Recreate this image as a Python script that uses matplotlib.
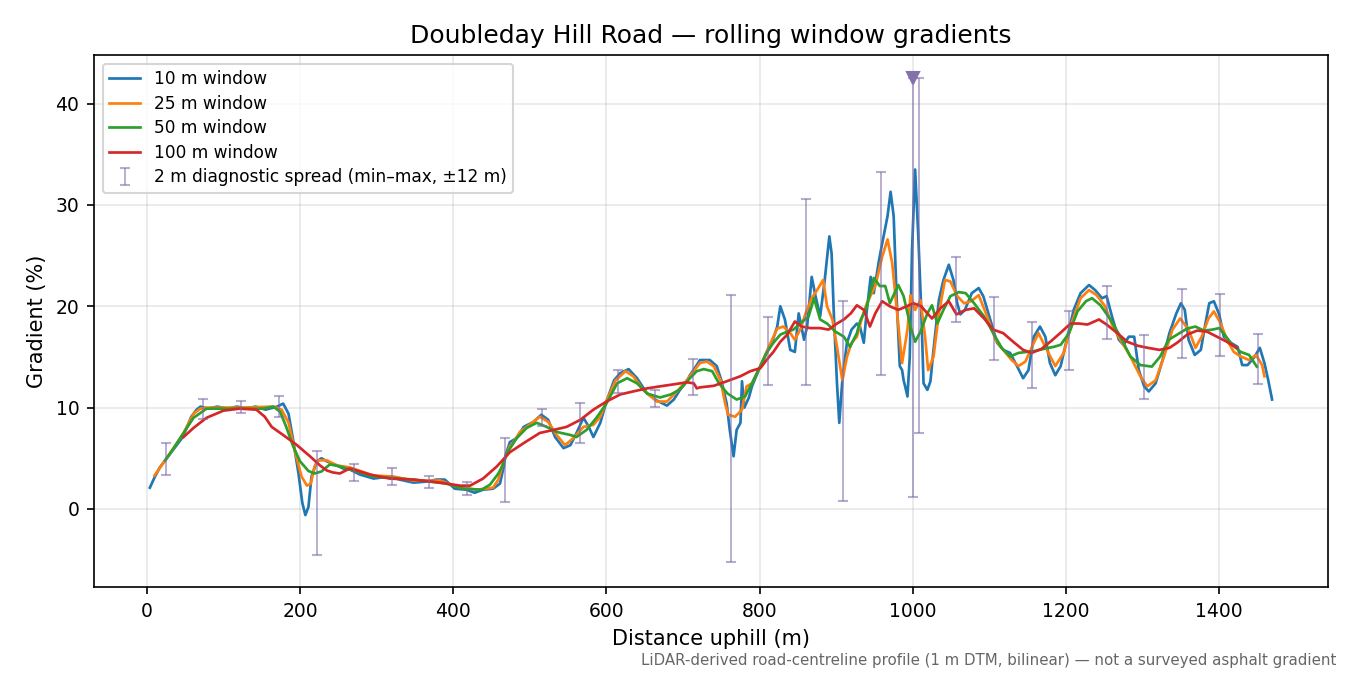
import numpy as np
import matplotlib
matplotlib.use("Agg")
import matplotlib.pyplot as plt

# --- 10 m window (blue) ---
dist_10 = [4, 10, 17, 24, 34, 47, 58, 65, 70, 80, 92, 105, 118, 130, 142, 155, 165, 170,
           178, 185, 191, 198, 203, 207, 211, 215, 222, 228, 235, 248, 256, 265, 278, 296,
           317, 330, 348, 365, 378, 389, 402, 417, 428, 439, 452, 461, 466, 468, 474, 483,
           492, 505, 515, 524, 533, 544, 553, 561, 570, 577, 583, 592, 600, 610, 618, 629,
           640, 653, 666, 679, 688, 696, 705, 709, 718, 722, 735, 744, 750, 757, 761, 766,
           770, 775, 777, 780, 786, 790, 801, 809, 816, 823, 827, 833, 840, 846, 851, 858,
           862, 868, 873, 879, 885, 891, 894, 897, 901, 904, 908, 914, 920, 927, 931, 936,
           940, 945, 949, 956, 960, 967, 971, 975, 979, 983, 986, 988, 990, 993, 996, 999,
           1003, 1007, 1011, 1014, 1019, 1023, 1027, 1034, 1040, 1047, 1053, 1058, 1062,
           1068, 1077, 1086, 1092, 1101, 1110, 1118, 1127, 1136, 1144, 1151, 1158, 1166,
           1173, 1179, 1186, 1193, 1201, 1210, 1219, 1230, 1238, 1247, 1253, 1260, 1269,
           1275, 1282, 1289, 1295, 1302, 1308, 1317, 1326, 1335, 1344, 1350, 1355, 1360,
           1368, 1376, 1382, 1387, 1393, 1400, 1406, 1415, 1424, 1430, 1437, 1446, 1453,
           1459, 1464, 1469]
grad_10 = [2.1, 3.1, 4.1, 4.8, 5.8, 7.1, 9.1, 9.8, 10.1, 9.9, 10.1, 9.9, 10.1, 9.9, 10.1, 9.8, 10.0, 10.1,
           10.4, 9.4, 6.8, 3.5, 0.6, -0.6, 0.2, 3.2, 4.7, 5.0, 4.7, 4.3, 4.0, 3.9, 3.4, 3.0,
           3.2, 2.9, 2.6, 2.7, 2.9, 2.9, 2.0, 1.9, 1.6, 1.9, 2.0, 2.5, 4.2, 5.2, 6.6, 7.0,
           8.1, 8.6, 9.3, 8.8, 7.1, 6.0, 6.3, 7.5, 9.0, 8.1, 7.1, 8.5, 10.6, 12.7, 13.4, 13.8,
           12.9, 11.4, 10.7, 10.2, 10.8, 11.75, 12.6, 13.2, 14.2, 14.7, 14.7, 14.1, 12.7, 10.4, 7.8, 5.2,
           7.8, 8.5, 12.6, 10.0, 11.0, 12.1, 14.1, 15.4, 16.4, 18.0, 20.0, 18.7, 15.7, 15.5, 19.3, 16.7,
           18.0, 22.9, 21.0, 19.0, 22.6, 26.9, 25.2, 19.0, 12.4, 8.5, 12.7, 16.4, 17.7, 18.3, 18.0, 16.4,
           19.65, 22.9, 21.3, 24.6, 26.2, 28.9, 31.3, 28.9, 20.6, 14.1, 13.7, 12.7, 12.1, 11.1, 15.0, 25.6,
           33.5, 27.2, 19.65, 12.4, 11.75, 12.6, 15.7, 20.6, 22.6, 24.1, 22.6, 20.3, 19.2,
           19.65, 21.3, 21.8, 21.0, 18.7, 16.4, 15.7, 15.4, 14.1, 12.9, 13.7, 17.0, 18.0,
           17.0, 14.4, 13.2, 14.1, 16.7, 19.65, 21.3, 22.1, 21.6, 20.8, 21.0, 19.0, 16.7,
           16.2, 17.0, 17.0, 13.7, 12.1, 11.6, 12.4, 14.7, 17.35, 19.3, 20.3, 19.65, 16.7,
           15.2, 15.7, 18.3, 20.3, 20.5, 19.2, 17.0, 16.4, 16.0, 14.2, 14.2, 15.0, 15.9,
           14.4, 12.7, 10.8]

# --- 25 m window (orange) ---
dist_25 = [10, 24, 35, 48, 61, 70, 78, 121, 165, 176, 185, 193, 202, 209, 214, 219, 224, 235,
           248, 265, 296, 322, 348, 383, 405, 431, 452, 459, 465, 474, 478, 487, 496, 513,
           524, 535, 546, 557, 570, 583, 592, 600, 612, 625, 635, 648, 666, 679, 692, 705,
           714, 722, 731, 740, 749, 755, 759, 768, 777, 783, 790, 801, 812, 823, 831, 840,
           846, 853, 860, 868, 875, 883, 888, 895, 901, 908, 914, 920, 927, 933, 940, 951,
           960, 967, 973, 980, 986, 993, 997, 1003, 1010, 1016, 1020, 1027, 1034, 1042,
           1049, 1058, 1067, 1076, 1086, 1097, 1108, 1118, 1129, 1138, 1147, 1158, 1164,
           1175, 1186, 1197, 1208, 1219, 1230, 1240, 1251, 1260, 1271, 1284, 1297, 1306,
           1317, 1328, 1339, 1349, 1360, 1369, 1377, 1386, 1393, 1402, 1410, 1419, 1428,
           1439, 1448, 1456, 1459]
grad_25 = [3.3, 4.8, 6.0, 7.5, 9.4, 9.9, 10.0, 10.0, 10.1, 9.8, 8.5, 5.8, 3.2, 2.3, 2.5, 4.2, 4.8, 4.8,
           4.3, 4.1, 3.3, 3.2, 2.8, 2.8, 2.2, 1.9, 2.1, 2.9, 4.5, 6.2, 6.5, 7.6, 8.1, 9.1,
           8.6, 7.3, 6.3, 7.0, 8.1, 8.3, 9.1, 10.6, 12.7, 13.6, 13.1, 11.75, 10.6, 10.6, 11.6, 12.7,
           13.6, 14.4, 14.55, 14.1, 12.7, 10.4, 9.3, 9.1, 9.8, 12.1, 12.4, 14.1, 16.0, 17.8, 18.0, 17.35,
           16.7, 17.7, 19.3, 20.8, 21.6, 22.6, 20.0, 18.7, 16.0, 12.7, 15.0, 16.4, 17.0, 18.7, 20.3, 22.0,
           24.9, 26.6, 24.3, 19.0, 14.4, 17.7, 21.1, 19.65, 20.6, 17.0, 13.7, 15.0, 19.3, 22.6,
           22.45, 21.0, 20.3, 20.5, 21.1, 19.0, 16.7, 15.7, 14.7, 14.1, 14.55, 16.4, 17.35,
           15.7, 14.1, 15.4, 18.5, 20.8, 21.6, 21.1, 20.0, 18.2, 16.7, 15.05, 13.1, 12.1,
           12.7, 15.05, 17.7, 18.8, 17.7, 15.9, 17.0, 18.8, 19.5, 18.3, 16.7, 15.5, 15.05,
           14.7, 15.2, 14.2, 13.1]

# --- 50 m window (green) ---
dist_50 = [24, 35, 48, 61, 78, 121, 152, 165, 174, 182, 191, 200, 211, 219, 228, 239, 252, 265,
           296, 348, 391, 413, 437, 448, 459, 465, 470, 483, 496, 509, 522, 535, 553, 561,
           574, 587, 600, 614, 627, 640, 653, 670, 684, 696, 709, 718, 727, 738, 747, 758,
           770, 781, 792, 801, 809, 818, 827, 836, 844, 853, 864, 871, 879, 888, 899, 910,
           918, 927, 931, 940, 949, 957, 964, 970, 981, 988, 997, 1003, 1010, 1019, 1025,
           1032, 1040, 1049, 1060, 1069, 1080, 1093, 1105, 1116, 1127, 1138, 1149, 1160,
           1171, 1184, 1193, 1204, 1215, 1226, 1234, 1245, 1258, 1271, 1284, 1297, 1312,
           1323, 1334, 1345, 1358, 1369, 1380, 1391, 1400, 1409, 1417, 1428, 1439, 1449]
grad_50 = [4.8, 6.0, 7.5, 9.0, 9.9, 9.9, 9.9, 10.1, 9.6, 8.1, 6.2, 4.7, 3.75, 3.5, 3.7, 4.4, 4.2, 3.9,
           3.2, 2.9, 2.5, 2.0, 1.9, 2.4, 3.5, 4.4, 5.5, 7.0, 8.0, 8.5, 8.1, 7.6, 7.3, 7.1,
           7.8, 9.0, 10.4, 12.4, 12.9, 12.4, 11.4, 11.0, 11.3, 11.8, 12.9, 13.6, 13.8, 13.6, 12.4, 11.4,
           10.8, 11.1, 12.7, 14.1, 15.4, 16.4, 17.2, 17.5, 17.7, 18.3, 19.0, 20.8, 18.7, 18.3, 17.5, 17.0,
           16.0, 17.35, 18.5, 20.0, 22.8, 22.0, 22.0, 20.3, 22.1, 21.0, 18.0, 16.5, 17.5, 19.3, 20.1,
           18.3, 19.65, 21.0, 21.4, 21.3, 20.3, 19.0, 17.35, 15.9, 15.05, 15.4, 15.5, 15.6,
           15.8, 16.0, 16.2, 17.35, 19.5, 20.5, 20.8, 20.1, 18.7, 17.0, 15.05, 14.2, 14.05,
           15.05, 16.7, 17.2, 17.8, 18.0, 17.6, 17.7, 17.85, 17.0, 16.2, 15.5, 15.2, 14.05]

# --- 100 m window (red) ---
dist_100 = [48, 61, 78, 100, 121, 143, 154, 163, 178, 196, 213, 226, 235, 243, 252, 265, 291, 317,
            348, 383, 409, 422, 439, 457, 474, 492, 513, 531, 548, 566, 583, 600, 618, 635,
            653, 670, 688, 705, 714, 718, 722, 740, 757, 775, 788, 801, 809, 818, 827, 836,
            846, 855, 866, 879, 890, 901, 910, 919, 927, 936, 944, 951, 960, 970, 981, 992,
            1001, 1011, 1019, 1025, 1036, 1047, 1057, 1069, 1080, 1093, 1105, 1118, 1131,
            1144, 1155, 1168, 1181, 1193, 1206, 1217, 1228, 1243, 1253, 1267, 1280, 1294,
            1307, 1322, 1335, 1345, 1358, 1371, 1384, 1397, 1410, 1423]
grad_100 = [7.1, 8.0, 9.0, 9.7, 9.9, 9.8, 9.1, 8.1, 7.3, 6.3, 5.2, 4.3, 3.8, 3.6, 3.5, 4.0, 3.4, 3.0,
            2.9, 2.6, 2.3, 2.3, 3.0, 4.2, 5.6, 6.5, 7.5, 7.8, 8.1, 8.8, 9.8, 10.6, 11.3, 11.6,
            11.9, 12.1, 12.3, 12.5, 12.4, 11.9, 12.0, 12.15, 12.6, 13.1, 13.6, 13.9, 14.7, 15.5, 16.5, 17.2,
            18.5, 18.0, 17.85, 17.85, 17.7, 18.3, 18.7, 19.3, 20.1, 19.65, 18.0, 19.3, 20.5, 20.0, 19.65, 20.0,
            20.3, 20.0, 19.3, 18.8, 19.8, 20.5, 19.2, 19.65, 19.8, 18.8, 17.7, 17.35, 16.5,
            15.7, 15.4, 15.8, 16.6, 17.4, 18.3, 18.3, 18.2, 18.7, 18.2, 17.35, 16.5, 16.1,
            15.9, 15.7, 15.9, 16.4, 17.2, 17.6, 17.5, 17.0, 16.5, 15.9]

# --- 2 m diagnostic spread (min / max within +-12 m) ---
spread_x = [25, 74, 123, 172, 222, 271, 320, 369, 418, 467, 516, 565, 615, 664, 713,
            762, 811, 860, 909, 958, 1008, 1057, 1106, 1155, 1204, 1253, 1302, 1351, 1401, 1450]
spread_lo = [3.4, 8.9, 9.5, 9.1, -4.5, 2.8, 2.4, 2.1, 1.4, 0.7, 8.2, 6.5, 11.4, 10.1, 11.2,
             -5.2, 12.2, 12.2, 0.8, 13.2, 7.5, 18.5, 14.7, 11.9, 13.7, 16.8, 10.9, 14.9, 15.1, 12.3]
spread_hi = [6.5, 10.9, 10.7, 11.1, 5.7, 4.4, 4.0, 3.3, 2.7, 7.0, 9.9, 10.5, 13.7, 11.75, 14.8,
             21.1, 18.9, 30.6, 20.5, 33.3, 42.5, 24.9, 20.9, 18.5, 19.5, 22.0, 17.2, 21.7, 21.2, 17.3]

# spread that runs off the top of the chart
clip_x = 1000
clip_lo = 1.2
clip_hi = 42.5

SPREAD_COLOR = "#7a68a6"

fig, ax = plt.subplots(figsize=(9, 4.5), dpi=150)
fig.subplots_adjust(left=0.0696, right=0.9837, top=0.9185, bottom=0.1304)

ax.plot(dist_10, grad_10, color="C0", lw=1.3, label="10 m window")
ax.plot(dist_25, grad_25, color="C1", lw=1.3, label="25 m window")
ax.plot(dist_50, grad_50, color="C2", lw=1.3, label="50 m window")
ax.plot(dist_100, grad_100, color="C3", lw=1.3, label="100 m window")

lo = np.array(spread_lo)
hi = np.array(spread_hi)
mid = (lo + hi) / 2
ax.errorbar(spread_x, mid, yerr=[mid - lo, hi - mid], fmt="none",
            ecolor=SPREAD_COLOR, elinewidth=0.9, capsize=2.5, alpha=0.55,
            label="2 m diagnostic spread (min\u2013max, \u00b112 m)")

cm = (clip_lo + clip_hi) / 2
ax.errorbar([clip_x], [cm], yerr=[[cm - clip_lo], [clip_hi - cm]], fmt="none",
            ecolor=SPREAD_COLOR, elinewidth=0.9, capsize=2.5, alpha=0.55)
ax.plot([clip_x], [clip_hi], marker="v", color="#8470ad", ms=5.5, ls="none")

ax.set_xlim(-69, 1542)
ax.set_ylim(-7.7, 44.8)
ax.set_xticks([0, 200, 400, 600, 800, 1000, 1200, 1400])
ax.set_yticks([0, 10, 20, 30, 40])
ax.tick_params(labelsize=9)
ax.grid(alpha=0.3)

ax.set_title("Doubleday Hill Road \u2014 rolling window gradients", fontsize=12)
ax.set_xlabel("Distance uphill (m)", fontsize=10)
ax.set_ylabel("Gradient (%)", fontsize=10)
ax.legend(loc="upper left", fontsize=8.2, labelspacing=0.38, handlelength=1.8)

fig.text(0.99, 0.022, "LiDAR-derived road-centreline profile (1 m DTM, bilinear) \u2014 not a surveyed asphalt gradient",
         ha="right", va="center", fontsize=7.2, color="#666666")

fig.savefig("out.png", dpi=150)
